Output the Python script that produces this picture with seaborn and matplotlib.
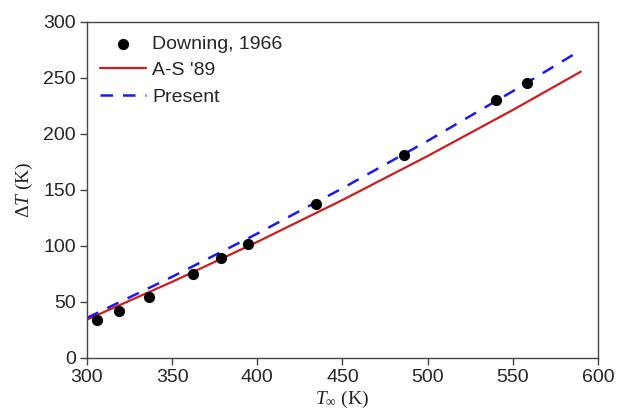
import pandas as pd
import matplotlib
matplotlib.use('Agg')
import matplotlib.pyplot as plt
import seaborn as sns

sns.set_style('ticks')
plt.rcParams['font.family'] = 'sans-serif'
plt.rcParams['font.sans-serif'] = ['Liberation Sans', 'Arial', 'DejaVu Sans']
plt.rcParams['mathtext.fontset'] = 'custom'
plt.rcParams['mathtext.rm'] = 'Liberation Serif'
plt.rcParams['mathtext.it'] = 'Liberation Serif:italic'
plt.rcParams['axes.edgecolor'] = '#444444'
plt.rcParams['axes.linewidth'] = 1.0

# Downing, 1966 measurements
downing_T = [306, 319, 336.5, 362, 378.5, 394.5, 434.5, 486, 540, 558.5]
downing_dT = [33.5, 41.5, 54, 75, 89, 101.5, 137, 181, 230, 245.5]

# A-S '89 curve
as89_T = [300, 350, 400, 450, 500, 550, 590]
as89_dT = [34, 67.7, 103.4, 140.8, 180.1, 221.2, 255.5]

# Present model
present_T = [300, 350, 400, 450, 500, 550, 590]
present_dT = [35.5, 72.2, 110.8, 151.3, 193.6, 238, 274.7]

pts = pd.DataFrame({'T': downing_T, 'dT': downing_dT})
as89 = pd.DataFrame({'T': as89_T, 'dT': as89_dT})
present = pd.DataFrame({'T': present_T, 'dT': present_dT})

fig, ax = plt.subplots(figsize=(6.17, 4.12), dpi=100)
fig.subplots_adjust(left=0.141, right=0.969, top=0.947, bottom=0.132)

sns.scatterplot(data=pts, x='T', y='dT', ax=ax, color='black', s=65,
                edgecolor='black', linewidth=0, label='Downing, 1966', zorder=3)
sns.lineplot(data=as89, x='T', y='dT', ax=ax, color='#d01c1c', linewidth=1.6,
             label="A-S '89", zorder=2)
sns.lineplot(data=present, x='T', y='dT', ax=ax, color='#1a1aee', linewidth=1.8,
             dashes=False, label='Present', zorder=2)
ax.lines[-1].set_dashes([5, 4])

ax.set_xlim(300, 600)
ax.set_ylim(0, 300)
ax.set_xticks(range(300, 601, 50))
ax.set_yticks(range(0, 301, 50))
ax.tick_params(axis='both', labelsize=14, direction='out', length=5, width=1,
               color='#444444', pad=3)
for s in ax.spines.values():
    s.set_visible(True)

ax.set_xlabel(r'$T_\infty$ (K)', fontsize=14, family='Liberation Serif', labelpad=2)
ax.set_ylabel(r'$\Delta T$ (K)', fontsize=14, family='Liberation Serif', labelpad=6)

leg = ax.legend(loc='upper left', frameon=False, fontsize=14, handlelength=2.4,
                handletextpad=0.3, labelspacing=0.45, borderpad=0, borderaxespad=0,
                bbox_to_anchor=(0.025, 0.96))

plt.savefig('out.png', dpi=100)
